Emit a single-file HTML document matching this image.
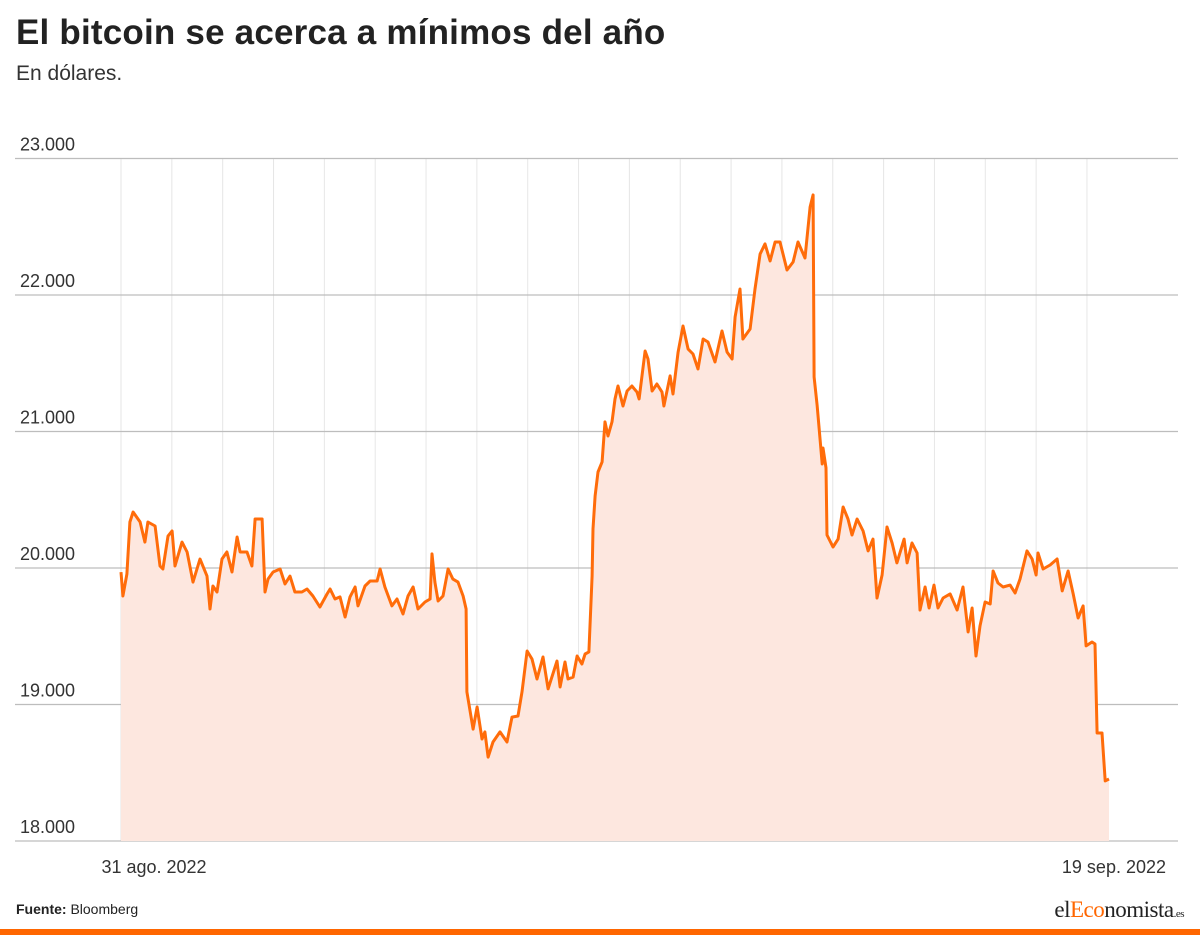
<!DOCTYPE html>
<html><head><meta charset="utf-8">
<style>
html,body{margin:0;padding:0;background:#fff;}
body{width:1200px;height:935px;position:relative;overflow:hidden;font-family:"Liberation Sans",sans-serif;}
#title{position:absolute;left:16px;top:13px;font-size:35px;font-weight:bold;color:#222;letter-spacing:0.2px;}
#subtitle{position:absolute;left:16px;top:62px;font-size:21px;color:#333;}
#source{position:absolute;left:16px;top:901px;font-size:14px;color:#222;}
#bar{position:absolute;left:0;top:929px;width:1200px;height:6px;background:#ff6600;}
#logo{position:absolute;right:16px;top:897px;font-family:"Liberation Serif",serif;font-size:23px;color:#222;letter-spacing:-0.5px;}
#logo span.o{color:#ff6600;}
#logo small{font-size:11px;}
svg{position:absolute;left:0;top:0;}
</style></head><body>
<div id="title">El bitcoin se acerca a mínimos del año</div>
<div id="subtitle">En dólares.</div>
<svg id="chart" width="1200" height="935"></svg>
<div id="source"><b>Fuente:</b> Bloomberg</div>
<div id="logo">el<span class="o">Eco</span>nomista<small>.es</small></div>
<div id="bar"></div>
<script>
const hours=[0,0.9,2.8,4.2,5.7,9.0,11.3,12.7,16.1,18.4,19.8,22.2,24.1,25.5,28.8,31.2,34.0,37.3,40.6,42.0,43.4,45.3,47.7,50.0,52.4,54.8,56.2,59.5,61.8,63.3,66.6,68.0,69.4,71.8,75.1,77.4,79.8,82.1,85.4,87.8,90.6,93.9,97.3,98.7,101.0,103.4,105.8,108.1,110.5,111.9,115.2,117.6,120.9,122.3,124.6,127.9,130.3,133.1,135.5,137.9,140.2,143.5,145.9,146.8,148.2,149.7,152.0,154.4,156.7,159.1,161.5,162.9,163.3,166.2,168.1,170.4,171.8,173.3,175.6,178.9,182.2,184.6,187.4,189.3,191.7,194.0,196.4,199.2,201.6,205.8,207.3,209.6,211.0,213.4,215.3,217.6,219.1,220.9,222.4,222.8,223.8,225.2,227.1,228.5,229.9,231.8,233.2,234.6,237.0,238.9,241.2,243.6,244.6,247.4,248.8,250.7,253.0,255.4,256.3,259.2,260.6,263.0,265.3,267.7,270.0,272.4,274.8,277.1,280.4,283.7,286.1,288.5,289.9,292.2,293.6,297.0,299.3,301.7,304.0,306.4,308.8,311.1,314.4,317.3,319.6,322.9,325.3,326.7,327.2,328.6,331.0,331.4,332.8,333.3,336.1,338.5,340.9,343.2,345.1,347.5,350.3,352.7,355.0,356.9,359.3,361.6,364.0,366.3,369.7,371.1,373.4,375.8,377.2,379.6,381.5,383.8,385.7,388.1,391.4,394.7,397.5,399.9,401.8,403.6,405.5,407.9,410.3,411.7,414.0,416.4,419.7,422.1,424.4,427.7,430.1,432.0,432.9,435.3,438.6,441.9,444.3,447.1,449.5,451.8,454.2,455.6,458.4,459.8,460.8,463.1,464.6,466.4];
const prices=[19970,19795,19956,20337,20410,20337,20190,20337,20308,20015,19993,20234,20271,20015,20190,20117,19897,20066,19941,19700,19868,19824,20066,20117,19971,20227,20117,20117,20015,20359,20359,19824,19919,19971,19993,19883,19941,19824,19824,19846,19795,19714,19810,19846,19773,19788,19641,19788,19861,19722,19868,19905,19905,19993,19861,19722,19773,19663,19795,19861,19700,19751,19773,20103,19897,19758,19795,19993,19919,19897,19795,19700,19092,18820,18982,18747,18799,18615,18725,18799,18725,18908,18916,19092,19392,19333,19187,19348,19114,19319,19128,19311,19187,19201,19355,19297,19370,19385,19941,20286,20527,20703,20777,21070,20967,21070,21238,21333,21187,21297,21333,21289,21238,21590,21531,21297,21348,21289,21187,21407,21275,21582,21773,21604,21568,21458,21678,21656,21509,21736,21582,21531,21839,22044,21678,21751,22044,22300,22374,22249,22388,22388,22183,22242,22388,22271,22645,22733,21399,21194,20762,20879,20733,20242,20154,20212,20447,20359,20242,20359,20271,20125,20212,19780,19949,20300,20183,20037,20212,20037,20183,20110,19692,19861,19707,19875,19707,19780,19810,19692,19861,19531,19707,19355,19575,19751,19736,19978,19890,19861,19875,19817,19919,20125,20066,19949,20110,19993,20022,20066,19832,19978,19810,19634,19722,19429,19458,19443,18791,18791,18440,18454];
const yTicks=[18000,19000,20000,21000,22000,23000];
const yTickLabels=["18.000","19.000","20.000","21.000","22.000","23.000"];
const dayCount=20;
const xLabels=["31 ago. 2022","19 sep. 2022"];
const xLabelDays=[0,19];

const NS="http://www.w3.org/2000/svg";
const svg=document.getElementById('chart');
const X0=121,DAYW=50.84,Y0=841,PER=0.1365;
function xs(h){return X0+h/24*DAYW;}
function ys(v){return Y0-(v-18000)*PER;}
function mk(t,a){const e=document.createElementNS(NS,t);for(const k in a)e.setAttribute(k,a[k]);svg.appendChild(e);return e;}
for(let d=0;d<dayCount;d++){
  const l=mk('line',{x1:xs(d*24),x2:xs(d*24),y1:159,y2:841,stroke:'#e6e6e6','stroke-width':1});
  
  
}
yTicks.forEach((v,i)=>{
  const l=mk('line',{x1:15,x2:1178,y1:ys(v),y2:ys(v),stroke:'#bdbdbd','stroke-width':1.2});
  
  
  const t=mk('text',{x:20,y:ys(v)-8,'font-size':18,fill:'#333','font-family':'Liberation Sans, sans-serif'});
  t.textContent=yTickLabels[i];
  
  
});
let d='';
hours.forEach((h,i)=>{d+=(i?'L':'M')+xs(h).toFixed(1)+','+ys(prices[i]).toFixed(1);});
const area=mk('path',{d:d+'L'+xs(hours[hours.length-1]).toFixed(1)+','+Y0+'L'+xs(hours[0]).toFixed(1)+','+Y0+'Z',fill:'#fde7df',stroke:'none'});


const line=mk('path',{d:d,fill:'none',stroke:'#ff6c0a','stroke-width':3,'stroke-linejoin':'round'});


xLabels.forEach((s,i)=>{
  const t=mk('text',{x:xs(xLabelDays[i]*24)+(i==0?33:27),y:873,'font-size':18,fill:'#333','text-anchor':'middle','font-family':'Liberation Sans, sans-serif'});
  t.textContent=s;
  
  
});
</script>
</body></html>
